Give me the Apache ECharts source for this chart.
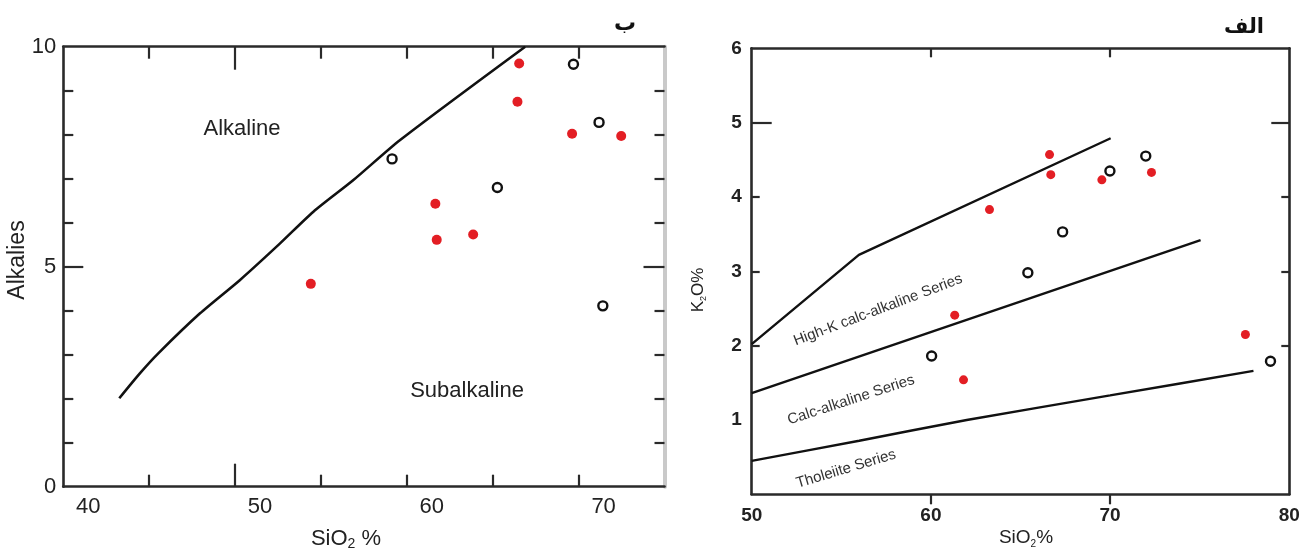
<!DOCTYPE html>
<html><head><meta charset="utf-8">
<script src="https://cdn.jsdelivr.net/npm/echarts@6/dist/echarts.min.js"></script>
<style>html,body{margin:0;padding:0;background:#fff}#c{width:1306px;height:552px}</style>
</head><body><div id="c"></div>
<script>
// ---------- Panel ب (left): Alkalies vs SiO2 ----------
const leftXTicks = [40, 50, 60, 70];
const leftYTicks = [0, 5, 10];
const leftBoundarySiO2 = [43.26, 44.47, 45.53, 47.96, 50.29, 52.62, 54.56, 56.89, 59.61, 66.89];
const leftBoundaryAlk  = [2.01, 2.58, 3.03, 3.94, 4.70, 5.53, 6.25, 6.97, 7.88, 10.0];
const leftRedSiO2  = [54.41, 61.66, 61.74, 63.86, 66.54, 66.44, 69.62, 72.48];
const leftRedAlk   = [4.61, 6.43, 5.61, 5.73, 9.62, 8.75, 8.02, 7.97];
const leftOpenSiO2 = [59.14, 65.27, 69.70, 71.19, 71.41];
const leftOpenAlk  = [7.45, 6.80, 9.60, 8.28, 4.11];

// ---------- Panel الف (right): K2O vs SiO2 ----------
const rightXTicks = [50, 60, 70, 80];
const rightYTicks = [1, 2, 3, 4, 5, 6];
const shoshoniteSiO2 = [50, 55.98, 70.03];
const shoshoniteK2O  = [2.02, 3.22, 4.79];
const calcAlkSiO2 = [50, 75.05];
const calcAlkK2O  = [1.36, 3.42];
const tholeiiteSiO2 = [50, 56, 62, 70, 78];
const tholeiiteK2O  = [0.45, 0.72, 1.00, 1.33, 1.66];
const rightRedSiO2  = [66.62, 66.69, 69.54, 72.31, 63.27, 61.33, 61.82, 77.55];
const rightRedK2O   = [4.57, 4.30, 4.23, 4.33, 3.83, 2.41, 1.54, 2.15];
const rightOpenSiO2 = [69.99, 71.99, 67.35, 65.41, 60.04, 78.95];
const rightOpenK2O  = [4.35, 4.55, 3.53, 2.98, 1.86, 1.79];

const zip = (a, b) => a.map((v, i) => [v, b[i]]);
const FONT = 'Liberation Sans, Arial, Helvetica, sans-serif';
const INK = '#222';
const AX = '#2a2a2a';
const RED = '#e31e24';

function ax(grid, pos, min, max, interval, opt) {
  return Object.assign({
    type: 'value', gridIndex: grid, position: pos, min, max, interval,
    axisLine: { show: false, onZero: false }, splitLine: { show: false },
    axisLabel: { show: false }, axisTick: { show: false }
  }, opt);
}
function line(color, width) {
  return { show: true, onZero: false, lineStyle: { color: color || AX, width: width || 2.6 } };
}
function tick(values, len, inside, color) {
  return { show: true, inside: inside, length: len, customValues: values,
           lineStyle: { color: color || AX, width: 2.2 } };
}

const chart = echarts.init(document.getElementById('c'), null, { renderer: 'canvas' });
chart.setOption({
  animation: false,
  backgroundColor: '#fff',
  grid: [
    { left: 63.3, top: 46.7, width: 601.2, height: 440, outerBoundsMode: 'none' },
    { left: 751.7, top: 48.3, width: 537.6, height: 446, outerBoundsMode: 'none' }
  ],
  xAxis: [
    // left panel
    ax(0, 'bottom', 40, 75, 5, {
      axisLine: line(),
      axisTick: tick([45, 55, 60, 65, 70], 12, true),
      axisLabel: { show: true, customValues: leftXTicks, fontSize: 22, color: INK,
                   fontFamily: FONT, margin: 9, padding: [0, 0, 0, 50] }
    }),
    ax(0, 'bottom', 40, 75, 5, { axisTick: tick([50], 23, true) }),
    ax(0, 'top', 40, 75, 5, {
      axisLine: line(),
      axisTick: tick([45, 55, 60, 65, 70], 12, true)
    }),
    ax(0, 'top', 40, 75, 5, { axisTick: tick([50], 23, true) }),
    // right panel
    ax(1, 'bottom', 50, 80, 10, {
      axisLine: line(),
      axisTick: tick([60, 70], 10, false),
      axisLabel: { show: true, customValues: rightXTicks, fontSize: 19, fontWeight: 'bold',
                   color: INK, fontFamily: FONT, margin: 12 }
    }),
    ax(1, 'top', 50, 80, 10, {
      axisLine: line(),
      axisTick: tick([60, 70], 9, true)
    })
  ],
  yAxis: [
    // left panel
    ax(0, 'left', 0, 10, 1, {
      axisLine: line(),
      axisTick: tick([1, 2, 3, 4, 6, 7, 8, 9], 10, true),
      axisLabel: { show: true, customValues: leftYTicks, fontSize: 22, color: INK,
                   fontFamily: FONT, margin: 7 }
    }),
    ax(0, 'left', 0, 10, 1, { axisTick: tick([5], 20, true) }),
    ax(0, 'right', 0, 10, 1, {
      axisLine: line('#c9c9c9', 4),
      axisTick: tick([1, 2, 3, 4, 6, 7, 8, 9], 10, true)
    }),
    ax(0, 'right', 0, 10, 1, { axisTick: tick([5], 21, true) }),
    // right panel
    ax(1, 'left', 0, 6, 1, {
      axisLine: line(),
      axisTick: tick([2, 3, 4], 8, true),
      axisLabel: { show: true, customValues: rightYTicks, fontSize: 19, fontWeight: 'bold',
                   color: INK, fontFamily: FONT, margin: 10 }
    }),
    ax(1, 'left', 0, 6, 1, { axisTick: tick([5], 20, true) }),
    ax(1, 'right', 0, 6, 1, {
      axisLine: line(),
      axisTick: tick([2, 3, 4], 8, true)
    }),
    ax(1, 'right', 0, 6, 1, { axisTick: tick([5], 18, true) })
  ],
  series: [
    { type: 'line', xAxisIndex: 0, yAxisIndex: 0, data: zip(leftBoundarySiO2, leftBoundaryAlk),
      smooth: 0.25, showSymbol: false, lineStyle: { color: '#111', width: 2.6 }, z: 3 },
    { type: 'scatter', xAxisIndex: 0, yAxisIndex: 0, data: zip(leftRedSiO2, leftRedAlk),
      symbol: 'circle', symbolSize: 10, itemStyle: { color: RED, opacity: 1 }, z: 4 },
    { type: 'scatter', xAxisIndex: 0, yAxisIndex: 0, data: zip(leftOpenSiO2, leftOpenAlk),
      symbol: 'circle', symbolSize: 9,
      itemStyle: { color: '#fff', borderColor: '#111', borderWidth: 2.4, opacity: 1 }, z: 4 },

    { type: 'line', xAxisIndex: 4, yAxisIndex: 4, data: zip(shoshoniteSiO2, shoshoniteK2O),
      showSymbol: false, lineStyle: { color: '#111', width: 2.4 }, z: 3 },
    { type: 'line', xAxisIndex: 4, yAxisIndex: 4, data: zip(calcAlkSiO2, calcAlkK2O),
      showSymbol: false, lineStyle: { color: '#111', width: 2.4 }, z: 3 },
    { type: 'line', xAxisIndex: 4, yAxisIndex: 4, data: zip(tholeiiteSiO2, tholeiiteK2O),
      smooth: 0.2, showSymbol: false, lineStyle: { color: '#111', width: 2.4 }, z: 3 },
    { type: 'scatter', xAxisIndex: 4, yAxisIndex: 4, data: zip(rightRedSiO2, rightRedK2O),
      symbol: 'circle', symbolSize: 9, itemStyle: { color: RED, opacity: 1 }, z: 4 },
    { type: 'scatter', xAxisIndex: 4, yAxisIndex: 4, data: zip(rightOpenSiO2, rightOpenK2O),
      symbol: 'circle', symbolSize: 9,
      itemStyle: { color: '#fff', borderColor: '#111', borderWidth: 2.4, opacity: 1 }, z: 4 }
  ],
  graphic: [
    // panel letters
    { type: 'text', x: 625, y: 24, style: { text: 'ب', fill: '#111', font: 'bold 22px "DejaVu Sans", sans-serif', textAlign: 'center', textVerticalAlign: 'middle' } },
    { type: 'text', x: 1244, y: 28, style: { text: 'الف', fill: '#111', font: 'bold 21px "DejaVu Sans", sans-serif', textAlign: 'center', textVerticalAlign: 'middle' } },
    // left panel texts
    { type: 'text', x: 242, y: 129, style: { text: 'Alkaline', fill: INK, font: '22px ' + FONT, textAlign: 'center', textVerticalAlign: 'middle' } },
    { type: 'text', x: 467, y: 391, style: { text: 'Subalkaline', fill: INK, font: '22px ' + FONT, textAlign: 'center', textVerticalAlign: 'middle' } },
    { type: 'text', x: 18, y: 260, rotation: Math.PI / 2,
      style: { text: 'Alkalies', fill: INK, font: '23px ' + FONT, textAlign: 'center', textVerticalAlign: 'middle' } },
    { type: 'text', x: 346, y: 539,
      style: { text: '{a|SiO}{b|2}{a| %}', textAlign: 'center', textVerticalAlign: 'middle',
        rich: { a: { fontSize: 22, fontFamily: FONT, fill: INK, color: INK, lineHeight: 24 },
                b: { fontSize: 14, fontFamily: FONT, fill: INK, color: INK, lineHeight: 14, verticalAlign: 'bottom' } } } },
    // right panel texts
    { type: 'text', x: 1026, y: 538,
      style: { text: '{a|SiO}{b|2}{a|%}', textAlign: 'center', textVerticalAlign: 'middle',
        rich: { a: { fontSize: 19, fontFamily: FONT, fill: INK, color: INK, lineHeight: 22 },
                b: { fontSize: 10, fontFamily: FONT, fill: INK, color: INK, lineHeight: 10, verticalAlign: 'bottom' } } } },
    { type: 'text', x: 698, y: 290, rotation: Math.PI / 2,
      style: { text: '{a|K}{b|2}{a|O%}', textAlign: 'center', textVerticalAlign: 'middle',
        rich: { a: { fontSize: 17, fontFamily: FONT, fill: INK, color: INK, lineHeight: 20 },
                b: { fontSize: 9, fontFamily: FONT, fill: INK, color: INK, lineHeight: 9, verticalAlign: 'bottom' } } } },
    { type: 'text', x: 878, y: 310, rotation: 20.7 * Math.PI / 180,
      style: { text: 'High-K calc-alkaline Series', fill: '#333', font: '15px ' + FONT, textAlign: 'center', textVerticalAlign: 'middle' } },
    { type: 'text', x: 851, y: 400, rotation: 18.1 * Math.PI / 180,
      style: { text: 'Calc-alkaline Series', fill: '#333', font: '15px ' + FONT, textAlign: 'center', textVerticalAlign: 'middle' } },
    { type: 'text', x: 846, y: 469, rotation: 16.7 * Math.PI / 180,
      style: { text: 'Tholeiite Series', fill: '#333', font: '15px ' + FONT, textAlign: 'center', textVerticalAlign: 'middle' } }
  ]
});
</script></body></html>
